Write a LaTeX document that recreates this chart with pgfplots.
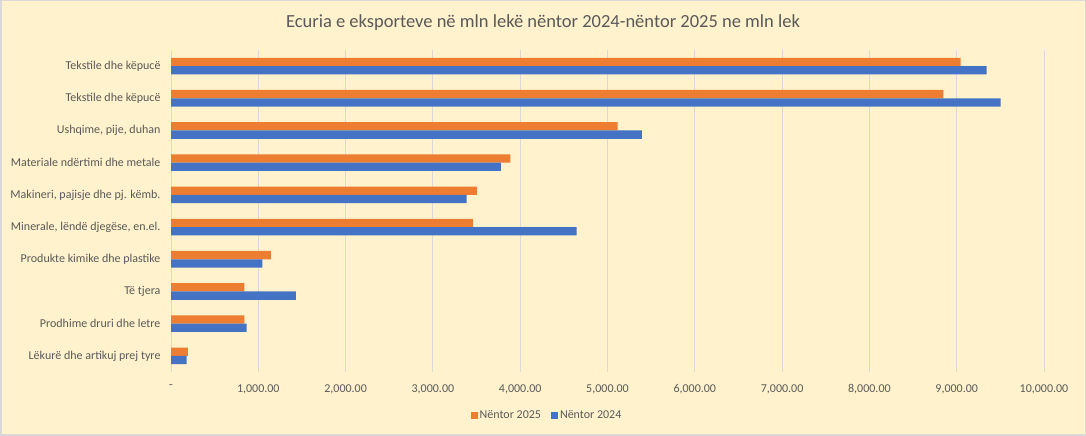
\documentclass[border=0pt]{standalone}
\usepackage{pgfplots}
\pgfplotsset{compat=1.18}
\usepackage{fontspec}
\setmainfont{Carlito}
\definecolor{bgc}{HTML}{FFF2CC}
\definecolor{orng}{HTML}{ED7D31}
\definecolor{blu}{HTML}{4472C4}
\definecolor{txt}{HTML}{595959}
\definecolor{grd}{HTML}{D9D9D9}
\begin{document}
\begin{tikzpicture}[x=1pt,y=1pt]
\useasboundingbox (0,0) rectangle (1086,436);
\fill[bgc] (0,0) rectangle (1086,436);
\draw[grd, line width=1.5pt] (0.75,0.75) rectangle (1085.25,435.25);
\node[text=txt, font=\fontsize{18.5}{22}\selectfont] at (543,413) {Ecuria e eksporteve në mln lekë nëntor 2024-nëntor 2025 ne mln lek};
\begin{axis}[
  at={(171pt,64pt)}, anchor=south west,
  scale only axis, width=873pt, height=322pt,
  xbar, bar width=8.3pt,
  xmin=0, xmax=10000, ymin=-0.5, ymax=9.5,
  scaled x ticks=false,
  axis line style={draw=none},
  xmajorgrids, grid style={grd, line width=1pt},
  major tick length=0,
  xtick={0,1000,...,10000},
  xticklabels={-,{1,000.00},{2,000.00},{3,000.00},{4,000.00},{5,000.00},{6,000.00},{7,000.00},{8,000.00},{9,000.00},{10,000.00}},
  ytick={0,...,9},
  yticklabels={Lëkurë dhe artikuj prej tyre,Prodhime druri dhe letre,Të tjera,Produkte kimike dhe plastike,{Minerale, lëndë djegëse, en.el.},{Makineri, pajisje dhe pj. këmb.},Materiale ndërtimi dhe metale,{Ushqime, pije, duhan},Tekstile dhe këpucë,Tekstile dhe këpucë},
  /pgf/number format/assume math mode=true,
  tick label style={text=txt, font=\fontsize{12}{14}\selectfont},
  yticklabel style={xshift=-7pt},
  xticklabel style={yshift=-9pt},
  legend columns=2,
  legend style={at={(0.4307,0)}, anchor=center, yshift=-43pt, draw=none, fill=none,
    font=\fontsize{12}{14}\selectfont, text=txt,
    /tikz/every even column/.append style={column sep=8pt}},
  legend image code/.code={\fill[#1] (0pt,-3.5pt) rectangle (7pt,3.5pt);},
]
\addplot[fill=orng, draw=none, bar shift=4.15pt] coordinates {
(9045,9) (8847,8) (5116,7) (3886,6) (3504,5) (3458,4) (1144,3) (840,2) (840,1) (194,0)};
\addplot[fill=blu, draw=none, bar shift=-4.15pt] coordinates {
(9343,9) (9503,8) (5394,7) (3779,6) (3386,5) (4646,4) (1046,3) (1431,2) (866,1) (179,0)};
\legend{Nëntor 2025,Nëntor 2024}
\end{axis}
\end{tikzpicture}
\end{document}
